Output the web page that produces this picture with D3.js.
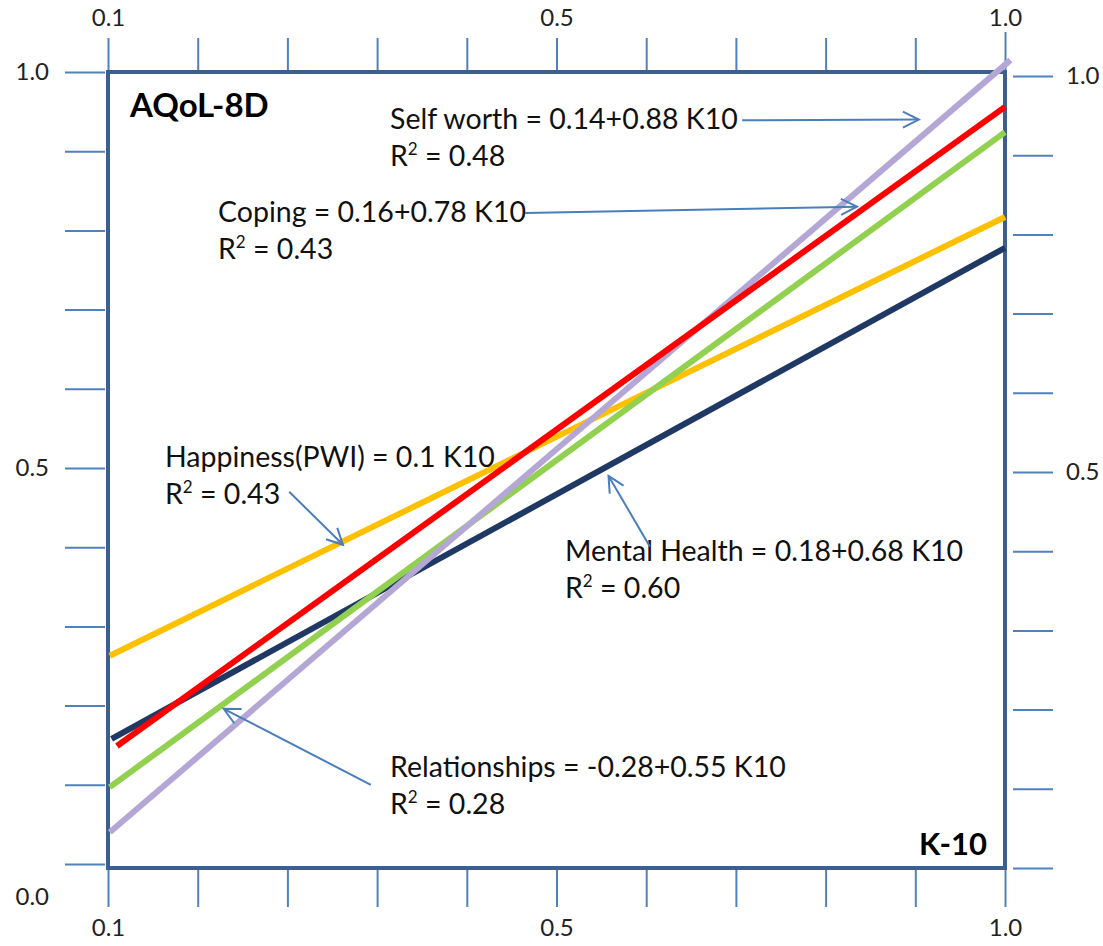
<!DOCTYPE html>
<html>
<head>
<meta charset="utf-8">
<script src="https://cdn.jsdelivr.net/npm/d3@7/dist/d3.min.js"></script>
<style>
  html, body { margin: 0; padding: 0; background: #fff; }
  svg { display: block; }
  text { font-family: Lato, "Open Sans", sans-serif; }
</style>
</head>
<body>
<svg id="chart" width="1103" height="946"></svg>
<script>
// K-10 vs AQoL-8D dimension regression lines
const series = ["Mental Health", "Happiness(PWI)", "Relationships", "Self worth", "Coping"];
const seriesColors = ["#1f3864", "#ffc000", "#92d050", "#b4a7d6", "#ff0000"];
// each line as two end points [K10, AQoL]
const startK10 = [0.004, 0.002, 0.002, 0.002, 0.010];
const startAQoL = [0.158, 0.263, 0.097, 0.040, 0.149];
const endK10 = [1.0, 1.0, 1.0, 1.006, 1.0];
const endAQoL = [0.778, 0.817, 0.924, 1.015, 0.956];

const equations = [
  "Mental Health = 0.18+0.68 K10",
  "Happiness(PWI) = 0.1 K10",
  "Relationships = -0.28+0.55 K10",
  "Self worth = 0.14+0.88 K10",
  "Coping = 0.16+0.78 K10"
];
const rSquared = ["0.60", "0.43", "0.28", "0.48", "0.43"];

const xTicks = [0, 0.1, 0.2, 0.3, 0.4, 0.5, 0.6, 0.7, 0.8, 0.9, 1.0];
const xTickLabels = ["0.1", "", "", "", "", "0.5", "", "", "", "", "1.0"];
const yTicks = [0, 0.1, 0.2, 0.3, 0.4, 0.5, 0.6, 0.7, 0.8, 0.9, 1.0];
const yTickLabels = ["0.0", "", "", "", "", "0.5", "", "", "", "", "1.0"];

const svg = d3.select("#chart");
const frame = { left: 108, right: 1005, top: 72, bottom: 868 };

const x = d3.scaleLinear().domain([0, 1]).range([frame.left, frame.right]);
const y = d3.scaleLinear().domain([0, 1]).range([864, 72]);

const tickColor = "#4f81bd";
const boxColor = "#3c5f8f";

function styleAxis(g) {
  g.select(".domain").remove();
  g.selectAll(".tick line").attr("stroke", tickColor).attr("stroke-width", 2);
  g.selectAll(".tick text").attr("fill", "#222").attr("font-size", 24)
    .attr("font-family", "Lato, 'Open Sans', sans-serif");
}

// bottom axis
svg.append("g").attr("transform", `translate(0,${frame.bottom})`)
  .call(d3.axisBottom(x).tickValues(xTicks).tickSize(39).tickPadding(12)
    .tickFormat((d, i) => xTickLabels[i]))
  .call(styleAxis);

// top axis
const topAxis = svg.append("g").attr("transform", `translate(0,${frame.top})`)
  .call(d3.axisTop(x).tickValues(xTicks).tickSize(34).tickPadding(12)
    .tickFormat((d, i) => xTickLabels[i]))
  .call(styleAxis);
topAxis.selectAll(".tick").filter(d => d === 1).select("line").attr("y2", -40);

// left axis
const leftAxis = svg.append("g").attr("transform", `translate(105,0)`)
  .call(d3.axisLeft(y).tickValues(yTicks).tickSize(40).tickPadding(16)
    .tickFormat((d, i) => yTickLabels[i]))
  .call(styleAxis);
leftAxis.selectAll(".tick").filter(d => d === 0).select("text").attr("dy", "1.7em");

// right axis
svg.append("g").attr("transform", `translate(1013,4)`)
  .call(d3.axisRight(y).tickValues(yTicks).tickSize(40).tickPadding(13)
    .tickFormat((d, i) => yTickLabels[i]))
  .call(styleAxis)
  .selectAll(".tick").filter(d => d === 0).select("text").text("");

// plot frame
svg.append("rect")
  .attr("x", frame.left).attr("y", frame.top)
  .attr("width", frame.right - frame.left).attr("height", frame.bottom - frame.top)
  .attr("fill", "none").attr("stroke", boxColor).attr("stroke-width", 4);

// regression lines
const lineData = series.map((name, i) => ({
  name, color: seriesColors[i],
  pts: [[startK10[i], startAQoL[i]], [endK10[i], endAQoL[i]]]
}));
const line = d3.line().x(d => x(d[0])).y(d => y(d[1]));
svg.append("g").selectAll("path").data(lineData).join("path")
  .attr("d", d => line(d.pts))
  .attr("fill", "none")
  .attr("stroke", d => d.color)
  .attr("stroke-width", 6);

// axis titles
svg.append("text").attr("x", 130).attr("y", 117)
  .attr("font-size", 33).attr("font-weight", "bold").attr("fill", "#000")
  .text("AQoL-8D");
svg.append("text").attr("x", 987).attr("y", 855)
  .attr("text-anchor", "end")
  .attr("font-size", 31).attr("font-weight", "bold").attr("fill", "#000")
  .text("K-10");

// equation labels
const labelPos = [
  [565, 561], [165, 467], [390, 777], [390, 129], [218, 222]
];
const labels = svg.append("g");
series.forEach((s, i) => {
  const [lx, ly] = labelPos[i];
  labels.append("text").attr("x", lx).attr("y", ly)
    .attr("font-size", 28.5).attr("fill", "#111").text(equations[i]);
  const t = labels.append("text").attr("x", lx).attr("y", ly + 37)
    .attr("font-size", 28.5).attr("fill", "#111");
  t.append("tspan").text("R");
  t.append("tspan").attr("font-size", 17).attr("dy", -11).text("2");
  t.append("tspan").attr("dy", 11).text(" = " + rSquared[i]);
});

// callout arrows [from K10, from AQoL, to K10, to AQoL]
const arrows = [
  [0.604, 0.401, 0.558, 0.490],
  [0.202, 0.470, 0.262, 0.403],
  [0.293, 0.100, 0.129, 0.196],
  [0.707, 0.939, 0.904, 0.940],
  [0.465, 0.822, 0.835, 0.830]
];
svg.append("defs").append("marker")
  .attr("id", "head").attr("viewBox", "0 0 20 20")
  .attr("refX", 18).attr("refY", 10)
  .attr("markerWidth", 20).attr("markerHeight", 20)
  .attr("markerUnits", "userSpaceOnUse")
  .attr("orient", "auto")
  .append("path").attr("d", "M2,2 L18,10 L2,18")
  .attr("fill", "none").attr("stroke", "#4a7ebb").attr("stroke-width", 2);
svg.append("g").selectAll("line").data(arrows).join("line")
  .attr("x1", d => x(d[0])).attr("y1", d => y(d[1]))
  .attr("x2", d => x(d[2])).attr("y2", d => y(d[3]))
  .attr("stroke", "#4a7ebb").attr("stroke-width", 2)
  .attr("marker-end", "url(#head)");
</script>
</body>
</html>
